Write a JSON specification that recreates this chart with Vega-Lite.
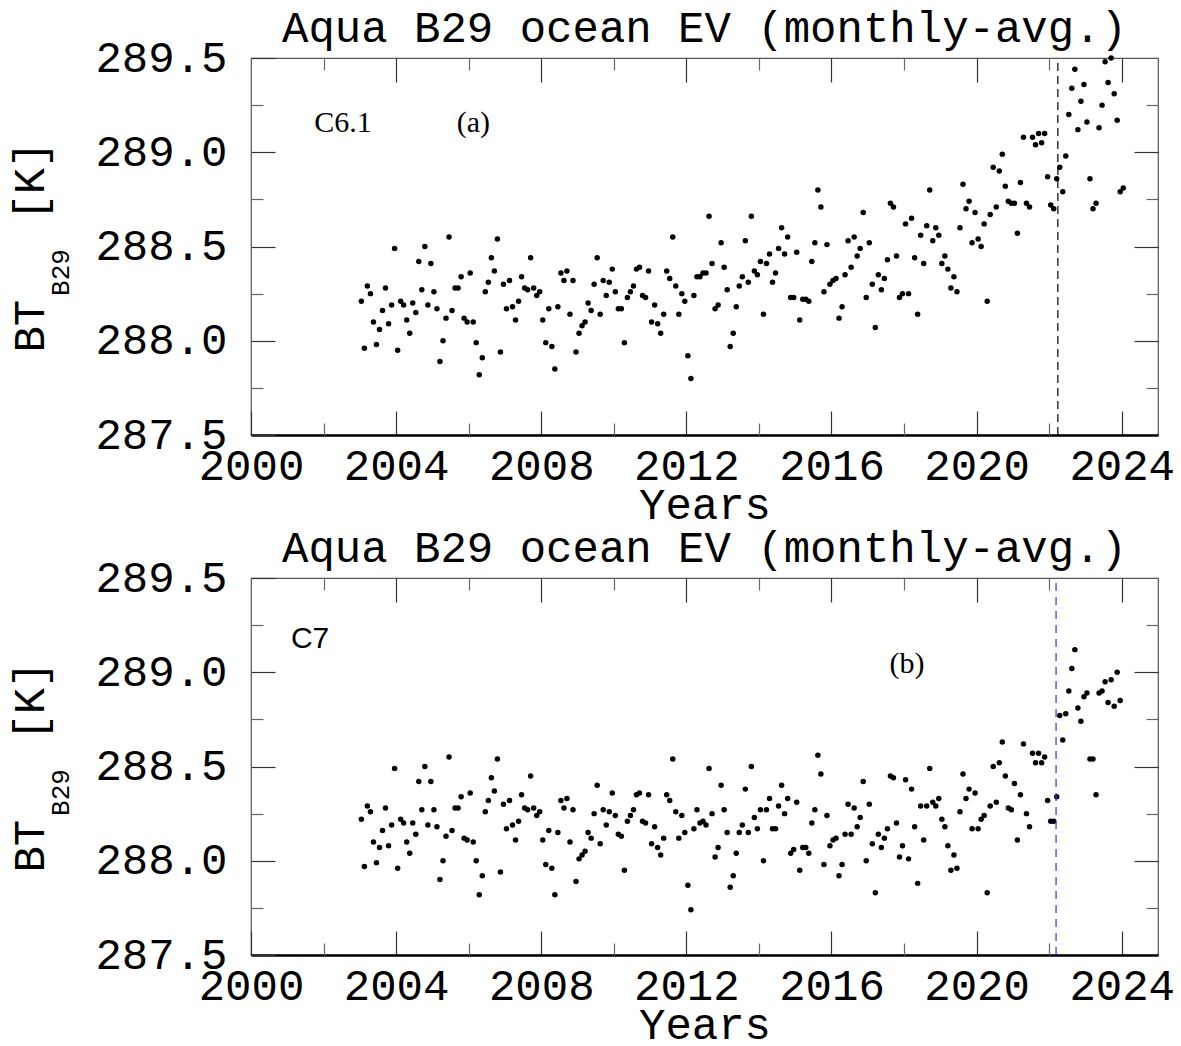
{
  "$schema": "https://vega.github.io/schema/vega-lite/v6.json",
  "background": "white",
  "padding": {"left": 8, "top": 6, "right": 2, "bottom": 2},
  "spacing": -2,
  "config": {
    "view": {"stroke": "#555", "strokeWidth": 1.2},
    "axis": {
      "grid": false,
      "domain": false,
      "labelColor": "black",
      "titleColor": "black",
      "tickColor": "#333",
      "tickWidth": 1.2,
      "labelFont": "Liberation Mono",
      "titleFont": "Liberation Mono",
      "labelFontSize": 44,
      "titleFontSize": 44,
      "titleFontWeight": "normal",
      "labelFlush": false,
      "labelOverlap": false
    },
    "title": {"font": "Liberation Mono", "fontSize": 44, "fontWeight": "normal", "color": "black", "anchor": "middle", "frame": "group", "baseline": "alphabetic", "offset": -15}
  },
  "datasets": {
    "c61": [
      {"t": 2003.042, "bt": 288.21}, {"t": 2003.125, "bt": 287.96}, {"t": 2003.208, "bt": 288.29}, {"t": 2003.292, "bt": 288.25}, {"t": 2003.375, "bt": 288.10}, {"t": 2003.458, "bt": 287.98}, {"t": 2003.542, "bt": 288.06}, {"t": 2003.625, "bt": 288.16}, {"t": 2003.708, "bt": 288.28}, {"t": 2003.792, "bt": 288.09}, {"t": 2003.875, "bt": 288.19}, {"t": 2003.958, "bt": 288.49},
      {"t": 2004.042, "bt": 287.95}, {"t": 2004.125, "bt": 288.21}, {"t": 2004.208, "bt": 288.19}, {"t": 2004.292, "bt": 288.11}, {"t": 2004.375, "bt": 288.04}, {"t": 2004.458, "bt": 288.20}, {"t": 2004.542, "bt": 288.15}, {"t": 2004.625, "bt": 288.42}, {"t": 2004.708, "bt": 288.27}, {"t": 2004.792, "bt": 288.50}, {"t": 2004.875, "bt": 288.19}, {"t": 2004.958, "bt": 288.41},
      {"t": 2005.042, "bt": 288.26}, {"t": 2005.125, "bt": 288.17}, {"t": 2005.208, "bt": 287.89}, {"t": 2005.292, "bt": 288.00}, {"t": 2005.375, "bt": 288.12}, {"t": 2005.458, "bt": 288.55}, {"t": 2005.542, "bt": 288.16}, {"t": 2005.625, "bt": 288.28}, {"t": 2005.708, "bt": 288.28}, {"t": 2005.792, "bt": 288.34}, {"t": 2005.875, "bt": 288.12}, {"t": 2005.958, "bt": 288.10},
      {"t": 2006.042, "bt": 288.36}, {"t": 2006.125, "bt": 288.10}, {"t": 2006.208, "bt": 287.99}, {"t": 2006.292, "bt": 287.82}, {"t": 2006.375, "bt": 287.91}, {"t": 2006.458, "bt": 288.26}, {"t": 2006.542, "bt": 288.31}, {"t": 2006.625, "bt": 288.44}, {"t": 2006.708, "bt": 288.37}, {"t": 2006.792, "bt": 288.54}, {"t": 2006.875, "bt": 287.94}, {"t": 2006.958, "bt": 288.30},
      {"t": 2007.042, "bt": 288.17}, {"t": 2007.125, "bt": 288.32}, {"t": 2007.208, "bt": 288.18}, {"t": 2007.292, "bt": 288.11}, {"t": 2007.375, "bt": 288.21}, {"t": 2007.458, "bt": 288.34}, {"t": 2007.542, "bt": 288.28}, {"t": 2007.625, "bt": 288.27}, {"t": 2007.708, "bt": 288.44}, {"t": 2007.792, "bt": 288.28}, {"t": 2007.875, "bt": 288.24}, {"t": 2007.958, "bt": 288.26},
      {"t": 2008.042, "bt": 288.11}, {"t": 2008.125, "bt": 287.99}, {"t": 2008.208, "bt": 288.17}, {"t": 2008.292, "bt": 287.97}, {"t": 2008.375, "bt": 287.85}, {"t": 2008.458, "bt": 288.18}, {"t": 2008.542, "bt": 288.36}, {"t": 2008.625, "bt": 288.32}, {"t": 2008.708, "bt": 288.37}, {"t": 2008.792, "bt": 288.14}, {"t": 2008.875, "bt": 288.32}, {"t": 2008.958, "bt": 287.94},
      {"t": 2009.042, "bt": 288.04}, {"t": 2009.125, "bt": 288.08}, {"t": 2009.208, "bt": 288.10}, {"t": 2009.292, "bt": 288.20}, {"t": 2009.375, "bt": 288.16}, {"t": 2009.458, "bt": 288.30}, {"t": 2009.542, "bt": 288.44}, {"t": 2009.625, "bt": 288.14}, {"t": 2009.708, "bt": 288.32}, {"t": 2009.792, "bt": 288.24}, {"t": 2009.875, "bt": 288.31}, {"t": 2009.958, "bt": 288.38},
      {"t": 2010.042, "bt": 288.26}, {"t": 2010.125, "bt": 288.17}, {"t": 2010.208, "bt": 288.17}, {"t": 2010.292, "bt": 287.99}, {"t": 2010.375, "bt": 288.23}, {"t": 2010.458, "bt": 288.26}, {"t": 2010.542, "bt": 288.29}, {"t": 2010.625, "bt": 288.38}, {"t": 2010.708, "bt": 288.39}, {"t": 2010.792, "bt": 288.24}, {"t": 2010.875, "bt": 288.23}, {"t": 2010.958, "bt": 288.37},
      {"t": 2011.042, "bt": 288.10}, {"t": 2011.125, "bt": 288.19}, {"t": 2011.208, "bt": 288.09}, {"t": 2011.292, "bt": 288.04}, {"t": 2011.375, "bt": 288.14}, {"t": 2011.458, "bt": 288.37}, {"t": 2011.542, "bt": 288.33}, {"t": 2011.625, "bt": 288.55}, {"t": 2011.708, "bt": 288.29}, {"t": 2011.792, "bt": 288.14}, {"t": 2011.875, "bt": 288.25}, {"t": 2011.958, "bt": 288.21},
      {"t": 2012.042, "bt": 287.92}, {"t": 2012.125, "bt": 287.80}, {"t": 2012.208, "bt": 288.24}, {"t": 2012.292, "bt": 288.34}, {"t": 2012.375, "bt": 288.34}, {"t": 2012.458, "bt": 288.36}, {"t": 2012.542, "bt": 288.36}, {"t": 2012.625, "bt": 288.66}, {"t": 2012.708, "bt": 288.41}, {"t": 2012.792, "bt": 288.17}, {"t": 2012.875, "bt": 288.19}, {"t": 2012.958, "bt": 288.52},
      {"t": 2013.042, "bt": 288.39}, {"t": 2013.125, "bt": 288.27}, {"t": 2013.208, "bt": 287.97}, {"t": 2013.292, "bt": 288.04}, {"t": 2013.375, "bt": 288.18}, {"t": 2013.458, "bt": 288.29}, {"t": 2013.542, "bt": 288.34}, {"t": 2013.625, "bt": 288.53}, {"t": 2013.708, "bt": 288.31}, {"t": 2013.792, "bt": 288.66}, {"t": 2013.875, "bt": 288.37}, {"t": 2013.958, "bt": 288.35},
      {"t": 2014.042, "bt": 288.42}, {"t": 2014.125, "bt": 288.14}, {"t": 2014.208, "bt": 288.41}, {"t": 2014.292, "bt": 288.46}, {"t": 2014.375, "bt": 288.31}, {"t": 2014.458, "bt": 288.36}, {"t": 2014.542, "bt": 288.49}, {"t": 2014.625, "bt": 288.60}, {"t": 2014.708, "bt": 288.46}, {"t": 2014.792, "bt": 288.55}, {"t": 2014.875, "bt": 288.23}, {"t": 2014.958, "bt": 288.23},
      {"t": 2015.042, "bt": 288.47}, {"t": 2015.125, "bt": 288.11}, {"t": 2015.208, "bt": 288.22}, {"t": 2015.292, "bt": 288.22}, {"t": 2015.375, "bt": 288.21}, {"t": 2015.458, "bt": 288.42}, {"t": 2015.542, "bt": 288.52}, {"t": 2015.625, "bt": 288.80}, {"t": 2015.708, "bt": 288.71}, {"t": 2015.792, "bt": 288.26}, {"t": 2015.875, "bt": 288.51}, {"t": 2015.958, "bt": 288.30},
      {"t": 2016.042, "bt": 288.32}, {"t": 2016.125, "bt": 288.33}, {"t": 2016.208, "bt": 288.12}, {"t": 2016.292, "bt": 288.18}, {"t": 2016.375, "bt": 288.35}, {"t": 2016.458, "bt": 288.53}, {"t": 2016.542, "bt": 288.39}, {"t": 2016.625, "bt": 288.55}, {"t": 2016.708, "bt": 288.45}, {"t": 2016.792, "bt": 288.49}, {"t": 2016.875, "bt": 288.68}, {"t": 2016.958, "bt": 288.23},
      {"t": 2017.042, "bt": 288.52}, {"t": 2017.125, "bt": 288.30}, {"t": 2017.208, "bt": 288.07}, {"t": 2017.292, "bt": 288.35}, {"t": 2017.375, "bt": 288.27}, {"t": 2017.458, "bt": 288.33}, {"t": 2017.542, "bt": 288.43}, {"t": 2017.625, "bt": 288.73}, {"t": 2017.708, "bt": 288.71}, {"t": 2017.792, "bt": 288.45}, {"t": 2017.875, "bt": 288.23}, {"t": 2017.958, "bt": 288.25},
      {"t": 2018.042, "bt": 288.62}, {"t": 2018.125, "bt": 288.25}, {"t": 2018.208, "bt": 288.65}, {"t": 2018.292, "bt": 288.44}, {"t": 2018.375, "bt": 288.14}, {"t": 2018.458, "bt": 288.56}, {"t": 2018.542, "bt": 288.41}, {"t": 2018.625, "bt": 288.61}, {"t": 2018.708, "bt": 288.80}, {"t": 2018.792, "bt": 288.53}, {"t": 2018.875, "bt": 288.60}, {"t": 2018.958, "bt": 288.56},
      {"t": 2019.042, "bt": 288.41}, {"t": 2019.125, "bt": 288.45}, {"t": 2019.208, "bt": 288.38}, {"t": 2019.292, "bt": 288.28}, {"t": 2019.375, "bt": 288.34}, {"t": 2019.458, "bt": 288.26}, {"t": 2019.542, "bt": 288.60}, {"t": 2019.625, "bt": 288.83}, {"t": 2019.708, "bt": 288.70}, {"t": 2019.792, "bt": 288.74}, {"t": 2019.875, "bt": 288.52}, {"t": 2019.958, "bt": 288.68},
      {"t": 2020.042, "bt": 288.54}, {"t": 2020.125, "bt": 288.50}, {"t": 2020.208, "bt": 288.62}, {"t": 2020.292, "bt": 288.21}, {"t": 2020.375, "bt": 288.67}, {"t": 2020.458, "bt": 288.92}, {"t": 2020.542, "bt": 288.71}, {"t": 2020.625, "bt": 288.90}, {"t": 2020.708, "bt": 288.99}, {"t": 2020.792, "bt": 288.82}, {"t": 2020.875, "bt": 288.74}, {"t": 2020.958, "bt": 288.73},
      {"t": 2021.042, "bt": 288.73}, {"t": 2021.125, "bt": 288.57}, {"t": 2021.208, "bt": 288.84}, {"t": 2021.292, "bt": 289.08}, {"t": 2021.375, "bt": 288.73}, {"t": 2021.458, "bt": 288.71}, {"t": 2021.542, "bt": 289.08}, {"t": 2021.625, "bt": 289.04}, {"t": 2021.708, "bt": 289.10}, {"t": 2021.792, "bt": 289.05}, {"t": 2021.875, "bt": 289.10}, {"t": 2021.958, "bt": 288.87},
      {"t": 2022.042, "bt": 288.72}, {"t": 2022.125, "bt": 288.70}, {"t": 2022.208, "bt": 288.86}, {"t": 2022.292, "bt": 288.92}, {"t": 2022.375, "bt": 288.79}, {"t": 2022.458, "bt": 288.98}, {"t": 2022.542, "bt": 289.20}, {"t": 2022.625, "bt": 289.34}, {"t": 2022.708, "bt": 289.44}, {"t": 2022.792, "bt": 289.12}, {"t": 2022.875, "bt": 289.27}, {"t": 2022.958, "bt": 289.36},
      {"t": 2023.042, "bt": 289.16}, {"t": 2023.125, "bt": 288.86}, {"t": 2023.208, "bt": 288.70}, {"t": 2023.292, "bt": 288.73}, {"t": 2023.375, "bt": 289.13}, {"t": 2023.458, "bt": 289.25}, {"t": 2023.542, "bt": 289.48}, {"t": 2023.625, "bt": 289.37}, {"t": 2023.708, "bt": 289.50}, {"t": 2023.792, "bt": 289.31}, {"t": 2023.875, "bt": 289.17}, {"t": 2023.958, "bt": 288.79},
      {"t": 2024.042, "bt": 288.81}
    ],
    "c7": [
      {"t": 2003.042, "bt": 288.22}, {"t": 2003.125, "bt": 287.97}, {"t": 2003.208, "bt": 288.29}, {"t": 2003.292, "bt": 288.26}, {"t": 2003.375, "bt": 288.10}, {"t": 2003.458, "bt": 287.99}, {"t": 2003.542, "bt": 288.07}, {"t": 2003.625, "bt": 288.16}, {"t": 2003.708, "bt": 288.28}, {"t": 2003.792, "bt": 288.08}, {"t": 2003.875, "bt": 288.19}, {"t": 2003.958, "bt": 288.49},
      {"t": 2004.042, "bt": 287.96}, {"t": 2004.125, "bt": 288.22}, {"t": 2004.208, "bt": 288.20}, {"t": 2004.292, "bt": 288.10}, {"t": 2004.375, "bt": 288.04}, {"t": 2004.458, "bt": 288.20}, {"t": 2004.542, "bt": 288.14}, {"t": 2004.625, "bt": 288.42}, {"t": 2004.708, "bt": 288.27}, {"t": 2004.792, "bt": 288.50}, {"t": 2004.875, "bt": 288.19}, {"t": 2004.958, "bt": 288.42},
      {"t": 2005.042, "bt": 288.27}, {"t": 2005.125, "bt": 288.18}, {"t": 2005.208, "bt": 287.90}, {"t": 2005.292, "bt": 288.00}, {"t": 2005.375, "bt": 288.13}, {"t": 2005.458, "bt": 288.55}, {"t": 2005.542, "bt": 288.16}, {"t": 2005.625, "bt": 288.28}, {"t": 2005.708, "bt": 288.28}, {"t": 2005.792, "bt": 288.34}, {"t": 2005.875, "bt": 288.12}, {"t": 2005.958, "bt": 288.11},
      {"t": 2006.042, "bt": 288.36}, {"t": 2006.125, "bt": 288.10}, {"t": 2006.208, "bt": 288.00}, {"t": 2006.292, "bt": 287.82}, {"t": 2006.375, "bt": 287.92}, {"t": 2006.458, "bt": 288.26}, {"t": 2006.542, "bt": 288.32}, {"t": 2006.625, "bt": 288.44}, {"t": 2006.708, "bt": 288.37}, {"t": 2006.792, "bt": 288.54}, {"t": 2006.875, "bt": 287.94}, {"t": 2006.958, "bt": 288.30},
      {"t": 2007.042, "bt": 288.17}, {"t": 2007.125, "bt": 288.32}, {"t": 2007.208, "bt": 288.19}, {"t": 2007.292, "bt": 288.11}, {"t": 2007.375, "bt": 288.21}, {"t": 2007.458, "bt": 288.35}, {"t": 2007.542, "bt": 288.28}, {"t": 2007.625, "bt": 288.27}, {"t": 2007.708, "bt": 288.45}, {"t": 2007.792, "bt": 288.28}, {"t": 2007.875, "bt": 288.24}, {"t": 2007.958, "bt": 288.26},
      {"t": 2008.042, "bt": 288.11}, {"t": 2008.125, "bt": 287.98}, {"t": 2008.208, "bt": 288.16}, {"t": 2008.292, "bt": 287.96}, {"t": 2008.375, "bt": 287.82}, {"t": 2008.458, "bt": 288.15}, {"t": 2008.542, "bt": 288.32}, {"t": 2008.625, "bt": 288.28}, {"t": 2008.708, "bt": 288.33}, {"t": 2008.792, "bt": 288.10}, {"t": 2008.875, "bt": 288.27}, {"t": 2008.958, "bt": 287.89},
      {"t": 2009.042, "bt": 288.01}, {"t": 2009.125, "bt": 288.03}, {"t": 2009.208, "bt": 288.05}, {"t": 2009.292, "bt": 288.15}, {"t": 2009.375, "bt": 288.12}, {"t": 2009.458, "bt": 288.25}, {"t": 2009.542, "bt": 288.40}, {"t": 2009.625, "bt": 288.09}, {"t": 2009.708, "bt": 288.27}, {"t": 2009.792, "bt": 288.19}, {"t": 2009.875, "bt": 288.26}, {"t": 2009.958, "bt": 288.36},
      {"t": 2010.042, "bt": 288.24}, {"t": 2010.125, "bt": 288.14}, {"t": 2010.208, "bt": 288.13}, {"t": 2010.292, "bt": 287.95}, {"t": 2010.375, "bt": 288.21}, {"t": 2010.458, "bt": 288.24}, {"t": 2010.542, "bt": 288.27}, {"t": 2010.625, "bt": 288.35}, {"t": 2010.708, "bt": 288.36}, {"t": 2010.792, "bt": 288.21}, {"t": 2010.875, "bt": 288.20}, {"t": 2010.958, "bt": 288.35},
      {"t": 2011.042, "bt": 288.09}, {"t": 2011.125, "bt": 288.18}, {"t": 2011.208, "bt": 288.07}, {"t": 2011.292, "bt": 288.03}, {"t": 2011.375, "bt": 288.12}, {"t": 2011.458, "bt": 288.35}, {"t": 2011.542, "bt": 288.32}, {"t": 2011.625, "bt": 288.54}, {"t": 2011.708, "bt": 288.26}, {"t": 2011.792, "bt": 288.12}, {"t": 2011.875, "bt": 288.24}, {"t": 2011.958, "bt": 288.15},
      {"t": 2012.042, "bt": 287.87}, {"t": 2012.125, "bt": 287.74}, {"t": 2012.208, "bt": 288.17}, {"t": 2012.292, "bt": 288.27}, {"t": 2012.375, "bt": 288.20}, {"t": 2012.458, "bt": 288.21}, {"t": 2012.542, "bt": 288.19}, {"t": 2012.625, "bt": 288.49}, {"t": 2012.708, "bt": 288.25}, {"t": 2012.792, "bt": 288.02}, {"t": 2012.875, "bt": 288.07}, {"t": 2012.958, "bt": 288.40},
      {"t": 2013.042, "bt": 288.27}, {"t": 2013.125, "bt": 288.15}, {"t": 2013.208, "bt": 287.86}, {"t": 2013.292, "bt": 287.92}, {"t": 2013.375, "bt": 288.04}, {"t": 2013.458, "bt": 288.15}, {"t": 2013.542, "bt": 288.19}, {"t": 2013.625, "bt": 288.38}, {"t": 2013.708, "bt": 288.15}, {"t": 2013.792, "bt": 288.50}, {"t": 2013.875, "bt": 288.23}, {"t": 2013.958, "bt": 288.17},
      {"t": 2014.042, "bt": 288.27}, {"t": 2014.125, "bt": 288.00}, {"t": 2014.208, "bt": 288.27}, {"t": 2014.292, "bt": 288.33}, {"t": 2014.375, "bt": 288.17}, {"t": 2014.458, "bt": 288.17}, {"t": 2014.542, "bt": 288.29}, {"t": 2014.625, "bt": 288.40}, {"t": 2014.708, "bt": 288.25}, {"t": 2014.792, "bt": 288.33}, {"t": 2014.875, "bt": 288.04}, {"t": 2014.958, "bt": 288.06},
      {"t": 2015.042, "bt": 288.31}, {"t": 2015.125, "bt": 287.95}, {"t": 2015.208, "bt": 288.07}, {"t": 2015.292, "bt": 288.07}, {"t": 2015.375, "bt": 288.04}, {"t": 2015.458, "bt": 288.20}, {"t": 2015.542, "bt": 288.27}, {"t": 2015.625, "bt": 288.56}, {"t": 2015.708, "bt": 288.46}, {"t": 2015.792, "bt": 287.98}, {"t": 2015.875, "bt": 288.24}, {"t": 2015.958, "bt": 288.08},
      {"t": 2016.042, "bt": 288.11}, {"t": 2016.125, "bt": 288.12}, {"t": 2016.208, "bt": 287.92}, {"t": 2016.292, "bt": 287.98}, {"t": 2016.375, "bt": 288.14}, {"t": 2016.458, "bt": 288.30}, {"t": 2016.542, "bt": 288.14}, {"t": 2016.625, "bt": 288.28}, {"t": 2016.708, "bt": 288.18}, {"t": 2016.792, "bt": 288.23}, {"t": 2016.875, "bt": 288.42}, {"t": 2016.958, "bt": 288.00},
      {"t": 2017.042, "bt": 288.30}, {"t": 2017.125, "bt": 288.09}, {"t": 2017.208, "bt": 287.83}, {"t": 2017.292, "bt": 288.14}, {"t": 2017.375, "bt": 288.07}, {"t": 2017.458, "bt": 288.12}, {"t": 2017.542, "bt": 288.17}, {"t": 2017.625, "bt": 288.45}, {"t": 2017.708, "bt": 288.44}, {"t": 2017.792, "bt": 288.20}, {"t": 2017.875, "bt": 288.02}, {"t": 2017.958, "bt": 288.08},
      {"t": 2018.042, "bt": 288.43}, {"t": 2018.125, "bt": 288.01}, {"t": 2018.208, "bt": 288.38}, {"t": 2018.292, "bt": 288.18}, {"t": 2018.375, "bt": 287.88}, {"t": 2018.458, "bt": 288.29}, {"t": 2018.542, "bt": 288.11}, {"t": 2018.625, "bt": 288.29}, {"t": 2018.708, "bt": 288.49}, {"t": 2018.792, "bt": 288.31}, {"t": 2018.875, "bt": 288.29}, {"t": 2018.958, "bt": 288.33},
      {"t": 2019.042, "bt": 288.22}, {"t": 2019.125, "bt": 288.18}, {"t": 2019.208, "bt": 288.08}, {"t": 2019.292, "bt": 287.95}, {"t": 2019.375, "bt": 288.03}, {"t": 2019.458, "bt": 287.96}, {"t": 2019.542, "bt": 288.26}, {"t": 2019.625, "bt": 288.46}, {"t": 2019.708, "bt": 288.33}, {"t": 2019.792, "bt": 288.38}, {"t": 2019.875, "bt": 288.17}, {"t": 2019.958, "bt": 288.36},
      {"t": 2020.042, "bt": 288.17}, {"t": 2020.125, "bt": 288.22}, {"t": 2020.208, "bt": 288.24}, {"t": 2020.292, "bt": 287.83}, {"t": 2020.375, "bt": 288.29}, {"t": 2020.458, "bt": 288.50}, {"t": 2020.542, "bt": 288.31}, {"t": 2020.625, "bt": 288.52}, {"t": 2020.708, "bt": 288.63}, {"t": 2020.792, "bt": 288.45}, {"t": 2020.875, "bt": 288.28}, {"t": 2020.958, "bt": 288.27},
      {"t": 2021.042, "bt": 288.41}, {"t": 2021.125, "bt": 288.11}, {"t": 2021.208, "bt": 288.35}, {"t": 2021.292, "bt": 288.62}, {"t": 2021.375, "bt": 288.25}, {"t": 2021.458, "bt": 288.18}, {"t": 2021.542, "bt": 288.57}, {"t": 2021.625, "bt": 288.52}, {"t": 2021.708, "bt": 288.57}, {"t": 2021.792, "bt": 288.52}, {"t": 2021.875, "bt": 288.55}, {"t": 2021.958, "bt": 288.32},
      {"t": 2022.042, "bt": 288.21}, {"t": 2022.125, "bt": 288.21}, {"t": 2022.208, "bt": 288.34}, {"t": 2022.292, "bt": 288.77}, {"t": 2022.375, "bt": 288.64}, {"t": 2022.458, "bt": 288.78}, {"t": 2022.542, "bt": 288.90}, {"t": 2022.625, "bt": 289.02}, {"t": 2022.708, "bt": 289.12}, {"t": 2022.792, "bt": 288.81}, {"t": 2022.875, "bt": 288.74}, {"t": 2022.958, "bt": 288.87},
      {"t": 2023.042, "bt": 288.89}, {"t": 2023.125, "bt": 288.54}, {"t": 2023.208, "bt": 288.54}, {"t": 2023.292, "bt": 288.35}, {"t": 2023.375, "bt": 288.89}, {"t": 2023.458, "bt": 288.90}, {"t": 2023.542, "bt": 288.95}, {"t": 2023.625, "bt": 288.84}, {"t": 2023.708, "bt": 288.96}, {"t": 2023.792, "bt": 288.82}, {"t": 2023.875, "bt": 289.00}, {"t": 2023.958, "bt": 288.85}
    ]
  },
  "vconcat": [
    {
      "width": 907,
      "height": 377,
      "title": "Aqua B29 ocean EV (monthly-avg.)",
      "resolve": {"scale": {"x": "shared", "y": "shared"}, "axis": {"x": "independent", "y": "independent"}},
      "layer": [
        {
          "data": {"name": "c61"},
          "mark": {"type": "circle", "size": 30, "color": "black", "opacity": 1},
          "encoding": {
            "x": {"field": "t", "type": "quantitative", "scale": {"domain": [2000, 2025], "nice": false, "zero": false},
              "axis": {"orient": "bottom", "values": [2000, 2004, 2008, 2012, 2016, 2020, 2024], "format": "d", "tickSize": -24, "labelPadding": 33, "domain": true, "domainColor": "black", "domainWidth": 2.5, "title": "Years", "titlePadding": -5}},
            "y": {"field": "bt", "type": "quantitative", "scale": {"domain": [287.5, 289.5], "nice": false, "zero": false},
              "axis": {"orient": "left", "values": [287.5, 288, 288.5, 289, 289.5], "format": ".1f", "tickSize": -24, "labelPadding": 48, "title": "BT\u00a0\u00a0\u00a0[K]", "titlePadding": 42}}
          }
        },
        {
          "data": {"values": [{}]},
          "mark": {"type": "rule", "color": "black", "strokeDash": [8, 5], "strokeWidth": 1.2},
          "encoding": {
            "x": {"datum": 2022.24, "type": "quantitative", "scale": {"domain": [2000, 2025], "nice": false, "zero": false},
              "axis": {"orient": "bottom", "values": [2002, 2006, 2010, 2014, 2018, 2022], "tickSize": -12, "tickColor": "#666", "labels": false, "title": null}},
            "y": {"datum": 287.5, "type": "quantitative", "scale": {"domain": [287.5, 289.5], "nice": false, "zero": false},
              "axis": {"orient": "left", "values": [287.75, 288.25, 288.75, 289.25], "tickSize": -12, "tickColor": "#666", "labels": false, "title": null}},
            "y2": {"datum": 289.5}
          }
        },
        {
          "data": {"values": [{}]},
          "mark": {"type": "text", "text": "C6.1", "font": "Liberation Serif", "fontSize": 30, "align": "left", "baseline": "alphabetic", "color": "black"},
          "encoding": {
            "x": {"datum": 2001.74, "type": "quantitative", "scale": {"domain": [2000, 2025], "nice": false, "zero": false},
              "axis": {"orient": "top", "values": [2004, 2008, 2012, 2016, 2020, 2024], "tickSize": -24, "labels": false, "title": null}},
            "y": {"datum": 289.109, "type": "quantitative", "scale": {"domain": [287.5, 289.5], "nice": false, "zero": false},
              "axis": {"orient": "right", "values": [288, 288.5, 289], "tickSize": -24, "labels": false, "title": null}}
          }
        },
        {
          "data": {"values": [{}]},
          "mark": {"type": "text", "text": "(a)", "font": "Liberation Serif", "fontSize": 30, "align": "left", "baseline": "alphabetic", "color": "black"},
          "encoding": {
            "x": {"datum": 2005.67, "type": "quantitative", "scale": {"domain": [2000, 2025], "nice": false, "zero": false},
              "axis": {"orient": "top", "values": [2002, 2006, 2010, 2014, 2018, 2022], "tickSize": -12, "tickColor": "#666", "labels": false, "title": null}},
            "y": {"datum": 289.109, "type": "quantitative", "scale": {"domain": [287.5, 289.5], "nice": false, "zero": false},
              "axis": {"orient": "right", "values": [287.75, 288.25, 288.75, 289.25], "tickSize": -12, "tickColor": "#666", "labels": false, "title": null}}
          }
        },
        {
          "data": {"values": [{}]},
          "mark": {"type": "text", "text": "B29", "font": "Liberation Mono", "fontSize": 26, "align": "center", "baseline": "alphabetic", "angle": 270, "color": "black"},
          "encoding": {
            "x": {"datum": 1994.99, "type": "quantitative", "scale": {"domain": [2000, 2025], "nice": false, "zero": false}, "axis": null},
            "y": {"datum": 288.362, "type": "quantitative", "scale": {"domain": [287.5, 289.5], "nice": false, "zero": false}, "axis": null}
          }
        }
      ]
    },
    {
      "width": 907,
      "height": 377,
      "title": "Aqua B29 ocean EV (monthly-avg.)",
      "resolve": {"scale": {"x": "shared", "y": "shared"}, "axis": {"x": "independent", "y": "independent"}},
      "layer": [
        {
          "data": {"name": "c7"},
          "mark": {"type": "circle", "size": 30, "color": "black", "opacity": 1},
          "encoding": {
            "x": {"field": "t", "type": "quantitative", "scale": {"domain": [2000, 2025], "nice": false, "zero": false},
              "axis": {"orient": "bottom", "values": [2000, 2004, 2008, 2012, 2016, 2020, 2024], "format": "d", "tickSize": -24, "labelPadding": 33, "domain": true, "domainColor": "black", "domainWidth": 2.5, "title": "Years", "titlePadding": -5}},
            "y": {"field": "bt", "type": "quantitative", "scale": {"domain": [287.5, 289.5], "nice": false, "zero": false},
              "axis": {"orient": "left", "values": [287.5, 288, 288.5, 289, 289.5], "format": ".1f", "tickSize": -24, "labelPadding": 48, "title": "BT\u00a0\u00a0\u00a0[K]", "titlePadding": 42}}
          }
        },
        {
          "data": {"values": [{}]},
          "mark": {"type": "rule", "color": "#3333dd", "strokeDash": [8, 6], "strokeWidth": 1.2},
          "encoding": {
            "x": {"datum": 2022.19, "type": "quantitative", "scale": {"domain": [2000, 2025], "nice": false, "zero": false},
              "axis": {"orient": "bottom", "values": [2002, 2006, 2010, 2014, 2018, 2022], "tickSize": -12, "tickColor": "#666", "labels": false, "title": null}},
            "y": {"datum": 287.5, "type": "quantitative", "scale": {"domain": [287.5, 289.5], "nice": false, "zero": false},
              "axis": {"orient": "left", "values": [287.75, 288.25, 288.75, 289.25], "tickSize": -12, "tickColor": "#666", "labels": false, "title": null}},
            "y2": {"datum": 289.5}
          }
        },
        {
          "data": {"values": [{}]},
          "mark": {"type": "text", "text": "C7", "font": "Liberation Sans Narrow, Liberation Sans", "fontSize": 30, "align": "left", "baseline": "alphabetic", "color": "black"},
          "encoding": {
            "x": {"datum": 2001.1, "type": "quantitative", "scale": {"domain": [2000, 2025], "nice": false, "zero": false},
              "axis": {"orient": "top", "values": [2004, 2008, 2012, 2016, 2020, 2024], "tickSize": -24, "labels": false, "title": null}},
            "y": {"datum": 289.129, "type": "quantitative", "scale": {"domain": [287.5, 289.5], "nice": false, "zero": false},
              "axis": {"orient": "right", "values": [288, 288.5, 289], "tickSize": -24, "labels": false, "title": null}}
          }
        },
        {
          "data": {"values": [{}]},
          "mark": {"type": "text", "text": "(b)", "font": "Liberation Serif", "fontSize": 30, "align": "left", "baseline": "alphabetic", "color": "black"},
          "encoding": {
            "x": {"datum": 2017.6, "type": "quantitative", "scale": {"domain": [2000, 2025], "nice": false, "zero": false},
              "axis": {"orient": "top", "values": [2002, 2006, 2010, 2014, 2018, 2022], "tickSize": -12, "tickColor": "#666", "labels": false, "title": null}},
            "y": {"datum": 288.994, "type": "quantitative", "scale": {"domain": [287.5, 289.5], "nice": false, "zero": false},
              "axis": {"orient": "right", "values": [287.75, 288.25, 288.75, 289.25], "tickSize": -12, "tickColor": "#666", "labels": false, "title": null}}
          }
        },
        {
          "data": {"values": [{}]},
          "mark": {"type": "text", "text": "B29", "font": "Liberation Mono", "fontSize": 26, "align": "center", "baseline": "alphabetic", "angle": 270, "color": "black"},
          "encoding": {
            "x": {"datum": 1994.99, "type": "quantitative", "scale": {"domain": [2000, 2025], "nice": false, "zero": false}, "axis": null},
            "y": {"datum": 288.362, "type": "quantitative", "scale": {"domain": [287.5, 289.5], "nice": false, "zero": false}, "axis": null}
          }
        }
      ]
    }
  ]
}
